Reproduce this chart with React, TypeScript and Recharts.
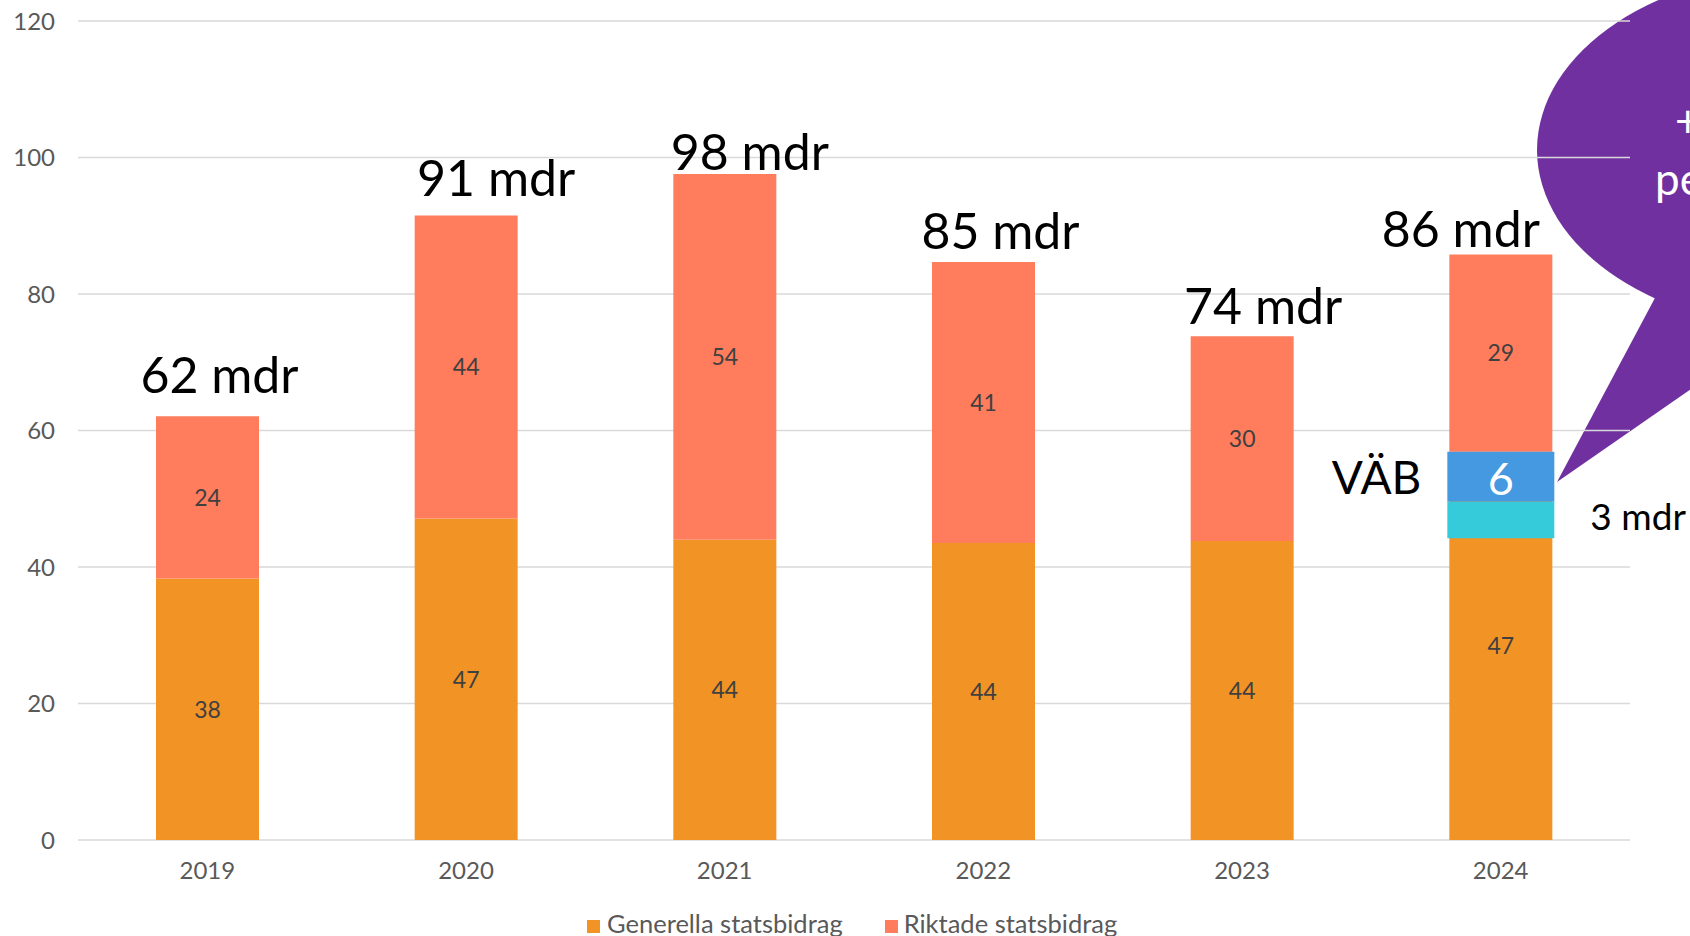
import React from 'react';
import { BarChart, Bar, XAxis, YAxis, CartesianGrid, LabelList, Legend } from 'recharts';

// ---------- data ----------
const years = ['2019', '2020', '2021', '2022', '2023', '2024'];
const generella = [38.3, 47.1, 44.0, 43.5, 43.8, 56.9];
const riktade = [23.8, 44.4, 53.6, 41.2, 30.0, 28.9];
const generellaLabels = ['38', '47', '44', '44', '44', '47'];
const riktadeLabels = ['24', '44', '54', '41', '30', '29'];
const totalLabels = ['62 mdr', '91 mdr', '98 mdr', '85 mdr', '74 mdr', '86 mdr'];
const vabBase = [null, null, null, null, null, 44.2];
const vabCyan = [null, null, null, null, null, 5.4];
const vabBlue = [null, null, null, null, null, 7.3];
const vabBlueLabel = '6';
const vabNameLabel = 'VÄB';
const vabCyanLabel = '3 mdr';
const yTicks = [0, 20, 40, 60, 80, 100, 120];
const seriesNames = ['Generella statsbidrag', 'Riktade statsbidrag'];

// ---------- style ----------
const FONT = 'Lato, "Noto Sans", sans-serif';
const C_ORANGE = '#F29325';
const C_RED = '#FF7C5D';
const C_BLUE = '#4599E0';
const C_CYAN = '#36CBDB';
const C_PURPLE = '#7030A0';
const C_GRID = '#D9D9D9';
const C_TICK = '#595959';
const C_INNER = '#404040';
// hand placed total labels (horizontal shift from bar centre, gap above bar top)
const totalShift = [12, 30, 25, 17, 21, -40];
const totalGap = [23, 20, 4, 13, 12, 7];

const data = years.map((y, i) => ({
  year: y,
  generella: generella[i],
  riktade: riktade[i],
  vabBase: vabBase[i],
  vabCyan: vabCyan[i],
  vabBlue: vabBlue[i],
}));

function box(p: any) {
  const v = p.viewBox || {};
  return {
    x: p.x ?? v.x,
    y: p.y ?? v.y,
    w: p.width ?? v.width,
    h: p.height ?? v.height,
  };
}

const renderInner = (labels: string[]) => (p: any) => {
  const b = box(p);
  const t = labels[p.index];
  if (t == null || b.x == null) return null;
  const fs = 23;
  return (
    <text x={b.x + b.w / 2} y={b.y + b.h / 2 + 0.36 * fs} textAnchor="middle" fontSize={fs} fill={C_INNER} fontFamily={FONT}>
      {t}
    </text>
  );
};

const renderTotal = (p: any) => {
  const b = box(p);
  const i = p.index;
  const t = totalLabels[i];
  if (t == null || b.x == null) return null;
  return (
    <text x={b.x + b.w / 2 + totalShift[i]} y={b.y - totalGap[i]} textAnchor="middle" fontSize={50} fill="#000" fontFamily={FONT}>
      {t}
    </text>
  );
};

const renderBlue = (p: any) => {
  const b = box(p);
  if (p.value == null || b.x == null || !b.h) return null;
  const cy = b.y + b.h / 2;
  return (
    <g>
      <text x={b.x + b.w / 2} y={cy + 18} textAnchor="middle" fontSize={45} fill="#fff" fontFamily={FONT}>
        {vabBlueLabel}
      </text>
      <text x={b.x - 26} y={cy + 17} textAnchor="end" fontSize={46} fill="#000" fontFamily={FONT}>
        {vabNameLabel}
      </text>
    </g>
  );
};

const renderCyan = (p: any) => {
  const b = box(p);
  if (p.value == null || b.x == null || !b.h) return null;
  const cy = b.y + b.h / 2;
  return (
    <text x={b.x + b.w + 36} y={cy + 10} textAnchor="start" fontSize={37} fill="#000" fontFamily={FONT}>
      {vabCyanLabel}
    </text>
  );
};

const LegendContent = () => (
  <div
    style={{
      width: 1690,
      height: 30,
      lineHeight: '30px',
      paddingLeft: 587,
      paddingTop: 2,
      boxSizing: 'border-box',
      fontFamily: FONT,
      fontSize: 25.5,
      color: C_TICK,
      whiteSpace: 'nowrap',
    }}
  >
    <span style={{ display: 'inline-block', width: 13, height: 13, background: C_ORANGE, marginRight: 7 }} />
    <span style={{ marginRight: 42 }}>{seriesNames[0]}</span>
    <span style={{ display: 'inline-block', width: 13, height: 13, background: C_RED, marginRight: 6 }} />
    <span>{seriesNames[1]}</span>
  </div>
);

export default function App() {
  return (
    <div style={{ position: 'fixed', left: 0, top: 0, width: 1690, height: 936, overflow: 'hidden', background: '#fff' }}>
      <svg width={1690} height={936} style={{ position: 'absolute', left: 0, top: 0 }}>
        <ellipse cx={1809} cy={150} rx={272} ry={180} fill={C_PURPLE} />
        <polygon points="1656,296 1557,482 1740,355 1760,290" fill={C_PURPLE} />
        <text x={1675} y={137} fill="#fff" fontSize={44} fontFamily={FONT}>+</text>
        <text x={1655} y={195} fill="#fff" fontSize={44} fontFamily={FONT}>pe</text>
      </svg>
      <div style={{ position: 'absolute', left: 0, top: 0 }}>
        <BarChart width={1690} height={936} data={data} margin={{ top: 21, right: 60, left: 0, bottom: 0 }}>
          <CartesianGrid vertical={false} stroke={C_GRID} strokeWidth={1.5} />
          <XAxis
            dataKey="year"
            axisLine={false}
            tickLine={false}
            tickSize={0}
            tickMargin={22}
            height={66}
            tick={{ fontSize: 24, fill: C_TICK, fontFamily: FONT }}
          />
          <XAxis xAxisId="ov" dataKey="year" hide />
          <YAxis
            domain={[0, 120]}
            ticks={yTicks}
            width={78}
            axisLine={false}
            tickLine={false}
            tickSize={0}
            tickMargin={23}
            tick={{ fontSize: 24, fill: C_TICK, fontFamily: FONT }}
          />
          <Legend verticalAlign="bottom" align="center" content={LegendContent} />
          <Bar dataKey="generella" name={seriesNames[0]} stackId="main" fill={C_ORANGE} barSize={103} isAnimationActive={false}>
            <LabelList dataKey="generella" content={renderInner(generellaLabels)} />
          </Bar>
          <Bar dataKey="riktade" name={seriesNames[1]} stackId="main" fill={C_RED} barSize={103} isAnimationActive={false}>
            <LabelList dataKey="riktade" content={renderInner(riktadeLabels)} />
            <LabelList dataKey="riktade" content={renderTotal} />
          </Bar>
          <Bar dataKey="vabBase" xAxisId="ov" stackId="vab" fill="transparent" barSize={107} isAnimationActive={false} legendType="none" />
          <Bar dataKey="vabCyan" xAxisId="ov" stackId="vab" fill={C_CYAN} barSize={107} isAnimationActive={false} legendType="none">
            <LabelList dataKey="vabCyan" content={renderCyan} />
          </Bar>
          <Bar dataKey="vabBlue" xAxisId="ov" stackId="vab" fill={C_BLUE} barSize={107} isAnimationActive={false} legendType="none">
            <LabelList dataKey="vabBlue" content={renderBlue} />
          </Bar>
        </BarChart>
      </div>
    </div>
  );
}
